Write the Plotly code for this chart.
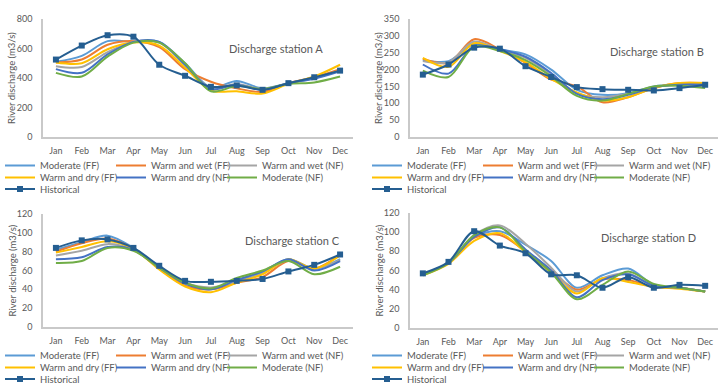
import plotly.graph_objects as go

W, H = 724, 388

months = ["Jan", "Feb", "Mar", "Apr", "May", "Jun", "Jul", "Aug", "Sep", "Oct", "Nov", "Dec"]
series_names = ["Moderate (FF)", "Warm and wet (FF)", "Warm and wet (NF)",
                "Warm and dry (FF)", "Warm and dry (NF)", "Moderate (NF)", "Historical"]
series_colors = ["#5B9BD5", "#ED7D31", "#A5A5A5", "#FFC000", "#4472C4", "#70AD47", "#255E91"]
station_titles = ["Discharge station A", "Discharge station B", "Discharge station C", "Discharge station D"]
y_title = "River discharge (m3/s)"

# Station A
a_mod_ff = [510, 550, 650, 645, 645, 500, 335, 380, 330, 365, 400, 455]
a_ww_ff = [505, 525, 625, 650, 610, 460, 375, 330, 305, 365, 405, 460]
a_ww_nf = [480, 475, 575, 645, 640, 490, 330, 360, 325, 365, 400, 450]
a_wd_ff = [505, 500, 595, 640, 620, 470, 315, 310, 295, 360, 410, 490]
a_wd_nf = [460, 435, 560, 645, 645, 490, 325, 355, 320, 365, 395, 445]
a_mod_nf = [435, 410, 545, 640, 640, 500, 310, 345, 325, 360, 370, 410]
a_hist = [525, 620, 690, 680, 490, 415, 340, 350, 320, 365, 405, 450]

# Station B
b_mod_ff = [228, 225, 275, 260, 245, 200, 140, 125, 130, 150, 155, 155]
b_ww_ff = [232, 220, 290, 260, 220, 170, 150, 103, 118, 145, 160, 160]
b_ww_nf = [225, 222, 283, 258, 235, 185, 130, 118, 128, 148, 155, 150]
b_wd_ff = [235, 208, 278, 255, 222, 172, 132, 108, 118, 145, 160, 160]
b_wd_nf = [215, 188, 270, 260, 238, 190, 128, 112, 125, 148, 155, 155]
b_mod_nf = [197, 178, 268, 255, 228, 180, 122, 108, 128, 150, 152, 145]
b_hist = [185, 215, 265, 262, 210, 178, 148, 142, 140, 138, 145, 155]

# Station C
c_mod_ff = [82, 90, 97, 84, 63, 46, 40, 48, 58, 72, 62, 72]
c_ww_ff = [80, 89, 94, 83, 62, 44, 40, 47, 53, 70, 62, 77]
c_ww_nf = [76, 81, 88, 82, 63, 47, 42, 48, 57, 71, 62, 71]
c_wd_ff = [79, 85, 91, 83, 61, 43, 37, 47, 56, 72, 62, 76]
c_wd_nf = [72, 74, 85, 82, 63, 46, 40, 50, 59, 72, 60, 70]
c_mod_nf = [68, 70, 84, 81, 63, 47, 41, 52, 60, 70, 56, 64]
c_hist = [84, 92, 93, 84, 65, 49, 48, 49, 51, 59, 66, 77]

# Station D
d_mod_ff = [56, 68, 95, 101, 87, 70, 42, 55, 62, 45, 42, 38]
d_ww_ff = [56, 68, 94, 97, 80, 60, 40, 51, 50, 43, 42, 38]
d_ww_nf = [56, 68, 97, 107, 88, 63, 38, 52, 57, 44, 42, 38]
d_wd_ff = [55, 67, 91, 99, 79, 58, 36, 52, 48, 43, 41, 38]
d_wd_nf = [56, 68, 95, 105, 82, 60, 32, 50, 56, 44, 42, 38]
d_mod_nf = [55, 68, 97, 105, 80, 58, 30, 45, 59, 46, 42, 38]
d_hist = [57, 69, 101, 86, 78, 56, 55, 42, 53, 42, 45, 44]

y_max = [800, 350, 120, 120]
y_step = [200, 50, 20, 20]

stations = [
    [a_mod_ff, a_ww_ff, a_ww_nf, a_wd_ff, a_wd_nf, a_mod_nf, a_hist],
    [b_mod_ff, b_ww_ff, b_ww_nf, b_wd_ff, b_wd_nf, b_mod_nf, b_hist],
    [c_mod_ff, c_ww_ff, c_ww_nf, c_wd_ff, c_wd_nf, c_mod_nf, c_hist],
    [d_mod_ff, d_ww_ff, d_ww_nf, d_wd_ff, d_wd_nf, d_mod_nf, d_hist],
]

# layout geometry (pixels)
panels = [
    dict(x0=43, x1=353, top=19, bot=137, title=(276, 48), ytitle_x=12, leg_x=0, leg_rows=(165.5, 177.5, 189)),
    dict(x0=410, x1=718, top=19, bot=137, title=(657, 52), ytitle_x=379, leg_x=367, leg_rows=(165.5, 177.5, 189)),
    dict(x0=43, x1=353, top=214, bot=327, title=(292, 240), ytitle_x=12, leg_x=0, leg_rows=(355.5, 367.5, 379)),
    dict(x0=410, x1=718, top=213, bot=328, title=(648, 237), ytitle_x=379, leg_x=367, leg_rows=(355.5, 367.5, 379)),
]

FONT = "Lato, Carlito, Calibri, sans-serif"
GREY = "#595959"
AXIS = "#C9C9C9"

fig = go.Figure()
layout = dict(width=W, height=H, margin=dict(l=0, r=0, t=0, b=0, autoexpand=False),
              paper_bgcolor="white", plot_bgcolor="white", template="none",
              showlegend=True, font=dict(family=FONT, color=GREY, size=9))
annotations = []

row_of = [0, 0, 0, 1, 1, 1, 2]

for p, (geo, data) in enumerate(zip(panels, stations)):
    sfx = "" if p == 0 else str(p + 1)
    xa, ya = "x" + sfx, "y" + sfx
    for s, vals in enumerate(data):
        leg_idx = p * 3 + row_of[s] + 1
        leg_name = "legend" if leg_idx == 1 else "legend%d" % leg_idx
        is_hist = s == 6
        fig.add_trace(go.Scatter(
            x=months, y=vals, name=series_names[s], xaxis=xa, yaxis=ya,
            mode="lines+markers" if is_hist else "lines",
            line=dict(color=series_colors[s], width=2, shape="spline", smoothing=0.9),
            marker=dict(symbol="square", size=6, color=series_colors[s]),
            legend=leg_name, legendwidth=90 if s in (2, 5, 6) else 66,
            hoverinfo="x+y+name"))
    layout["xaxis" + sfx] = dict(
        domain=[geo["x0"] / W, geo["x1"] / W], anchor=ya, type="category",
        range=[-0.5, 11.5], showgrid=False, zeroline=False, showline=True,
        linecolor=AXIS, linewidth=1.5, ticks="outside", ticklen=4,
        tickcolor="rgba(0,0,0,0)", tickfont=dict(size=9, color=GREY, family=FONT),
        automargin=False, fixedrange=True)
    layout["yaxis" + sfx] = dict(
        domain=[1 - geo["bot"] / H, 1 - geo["top"] / H], anchor=xa,
        range=[0, y_max[p]], dtick=y_step[p], showgrid=False, zeroline=False,
        showline=True, linecolor=AXIS, linewidth=1.5, ticks="outside", ticklen=7,
        tickcolor="rgba(0,0,0,0)", tickfont=dict(size=9, color=GREY, family=FONT),
        automargin=False, fixedrange=True)
    annotations.append(dict(x=geo["title"][0] / W, y=1 - geo["title"][1] / H,
                            xref="paper", yref="paper", text=station_titles[p],
                            showarrow=False, xanchor="center", yanchor="middle",
                            font=dict(size=11, color=GREY, family=FONT)))
    annotations.append(dict(x=geo["ytitle_x"] / W, y=1 - (geo["top"] + geo["bot"]) / 2 / H,
                            xref="paper", yref="paper", text=y_title, textangle=-90,
                            showarrow=False, xanchor="center", yanchor="middle",
                            font=dict(size=9.5, color=GREY, family=FONT)))
    for r in range(3):
        leg_idx = p * 3 + r + 1
        leg_name = "legend" if leg_idx == 1 else "legend%d" % leg_idx
        layout[leg_name] = dict(
            orientation="h", x=geo["leg_x"] / W, xanchor="left",
            y=1 - geo["leg_rows"][r] / H, yanchor="middle",
            bgcolor="rgba(0,0,0,0)", borderwidth=0, itemwidth=30,
            entrywidthmode="pixels", tracegroupgap=0,
            font=dict(size=9.5, color=GREY, family=FONT), itemclick=False, itemdoubleclick=False)

layout["annotations"] = annotations
fig.update_layout(**layout)
fig.write_html("out.html", config={"displayModeBar": False},
               post_script="document.body.style.margin='0';document.body.style.padding='0';")
